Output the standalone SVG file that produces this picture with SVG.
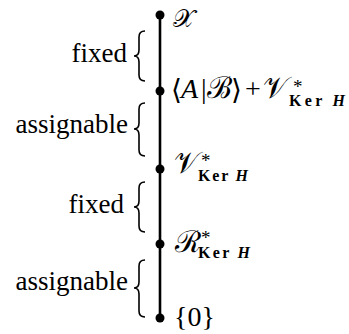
<svg xmlns="http://www.w3.org/2000/svg" width="349" height="334" viewBox="0 0 349 334">
<style>
text{font-family:"Liberation Serif","DejaVu Serif",serif;fill:#000}
.lbl{font-size:27px;text-anchor:end}
.m{font-size:28px}
.s{font-size:30px}
.it{font-style:italic}
.sup{font-size:19px}
.sub{font-size:16px;font-weight:bold}
.brace{fill:none;stroke:#000;stroke-width:1.6}
.dot{fill:#000}
</style>
<g id="connectors">
<line x1="160" y1="15" x2="160" y2="318" stroke="#000" stroke-width="2.6"/>
</g>
<g id="node-X"><circle class="dot" cx="160" cy="15" r="4.5"/><text x="173" y="27" font-size="25">𝒳</text></g>
<g id="node-AB"><circle class="dot" cx="160" cy="91" r="4.5"/>
<text class="m" x="171" y="99">⟨</text>
<text class="m it" x="181" y="98">A</text>
<text class="m" x="201" y="98">|</text>
<text class="s" x="207" y="98">ℬ</text>
<text class="m" x="231" y="99">⟩</text>
<text class="m" x="245" y="98">+</text>
<text class="s" x="263" y="98">𝒱</text>
<text class="sup" x="293" y="93">*</text>
<text class="sub" x="289" y="106" textLength="56">Ker <tspan font-style="italic">H</tspan></text>
</g>
<g id="node-V"><circle class="dot" cx="160" cy="169" r="4.5"/>
<text class="s" x="174" y="173">𝒱</text>
<text class="sup" x="201" y="167">*</text>
<text class="sub" x="198" y="181" textLength="50">Ker <tspan font-style="italic">H</tspan></text>
</g>
<g id="node-R"><circle class="dot" cx="160" cy="244" r="4.5"/>
<text class="s" x="175" y="252">ℛ</text>
<text class="sup" x="201" y="244">*</text>
<text class="sub" x="198" y="258" textLength="52">Ker <tspan font-style="italic">H</tspan></text>
</g>
<g id="node-0"><circle class="dot" cx="160" cy="318" r="4.5"/>
<text class="m" x="174" y="326" font-size="25">{0}</text>
</g>
<g id="label-fixed-1"><text class="lbl" x="127" y="62">fixed</text>
<path class="brace" d="M145,31 Q139,31 139,37 L139,50 Q139,56 134,56 Q139,56 139,62 L139,75 Q139,81 145,81"/></g>
<g id="label-assignable-1"><text class="lbl" x="128" y="133">assignable</text>
<path class="brace" d="M145,103 Q139,103 139,109 L139,123 Q139,129 134,129 Q139,129 139,135 L139,150 Q139,156 145,156"/></g>
<g id="label-fixed-2"><text class="lbl" x="124" y="213">fixed</text>
<path class="brace" d="M145,182 Q139,182 139,188 L139,201 Q139,207 134,207 Q139,207 139,213 L139,226 Q139,232 145,232"/></g>
<g id="label-assignable-2"><text class="lbl" x="128" y="290">assignable</text>
<path class="brace" d="M145,260 Q139,260 139,266 L139,282 Q139,288 134,288 Q139,288 139,294 L139,311 Q139,317 145,317"/></g>
</svg>
